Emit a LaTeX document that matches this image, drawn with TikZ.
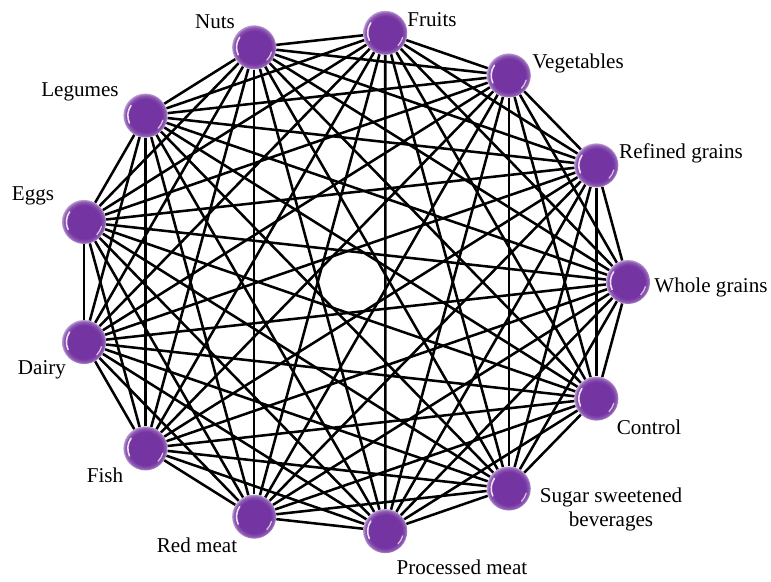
\documentclass[tikz,border=0pt]{standalone}
\usepackage{fontspec}
\setmainfont{Liberation Serif}
\usepackage{xcolor}
\usetikzlibrary{calc}

\definecolor{foodpurple}{RGB}{116,52,162}
\pgfdeclareradialshading{glossball}{\pgfpoint{0bp}{0bp}}{%
  color(0bp)=(foodpurple); color(19bp)=(foodpurple);
  color(23bp)=(foodpurple!80!white); color(25bp)=(foodpurple!50!white);
  color(50bp)=(foodpurple!50!white)}

\begin{document}
\begin{tikzpicture}[x=0.025cm, y=-0.025cm,
  food/.style={circle, minimum size=1.1cm, inner sep=0pt, shading=glossball,
    path picture={
      \draw[white, line width=1.1pt, opacity=0.85, line cap=round]
        ([shift={(145:0.44cm)}]path picture bounding box.center) arc (145:205:0.44cm);
      \draw[white, line width=0.9pt, opacity=0.7, line cap=round]
        ([shift={(-15:0.45cm)}]path picture bounding box.center) arc (-15:-45:0.45cm);
    }},
  edge/.style={line width=1.8pt, black},
  lbl/.style={font=\fontsize{15}{17}\selectfont, inner sep=0pt, align=center}]
  \useasboundingbox (0,0) rectangle (771,581);

  % Food groups around the ellipse
  \foreach \i in {0,...,12} {
    \node[food] (n\i) at ({352+276*cos(\i*360/13)}, {282-251*sin(\i*360/13)}) {};
  }

  % Every pair is joined
  \foreach \i in {0,...,11} {
    \pgfmathtruncatemacro{\nxt}{\i+1}
    \foreach \j in {\nxt,...,12} {
      \draw[edge] (n\i) -- (n\j);
    }
  }

  % Labels
  \node[lbl] (l0) at (711,287) {Whole grains};
  \node[lbl] (l1) at (681,153) {Refined grains};
  \node[lbl] (l2) at (578,63) {Vegetables};
  \node[lbl] (l3) at (432,20) {Fruits};
  \node[lbl] (l4) at (215,22) {Nuts};
  \node[lbl] (l5) at (80,92) {Legumes};
  \node[lbl] (l6) at (33,196) {Eggs};
  \node[lbl] (l7) at (42,370) {Dairy};
  \node[lbl] (l8) at (105,475) {Fish};
  \node[lbl] (l9) at (197,545) {Red meat};
  \node[lbl] (l10) at (462,567) {Processed meat};
  \node[lbl] (l11) at (611,509) {Sugar sweetened\\beverages};
  \node[lbl] (l12) at (649,427) {Control};
\end{tikzpicture}
\end{document}
